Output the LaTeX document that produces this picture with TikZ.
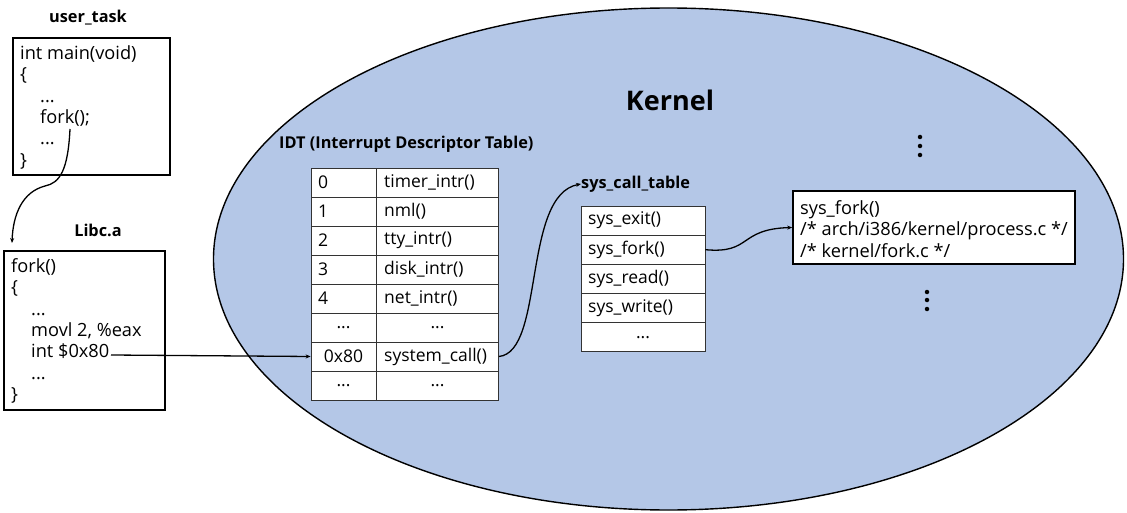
\documentclass[tikz,border=0pt]{standalone}
\usepackage{fontspec}
\setmainfont{Open Sans}
\usetikzlibrary{shapes.geometric,arrows.meta}
\definecolor{kblue}{RGB}{180,199,231}
\tikzset{
  codebox/.style={draw=black,line width=1.6pt,fill=white,inner sep=0pt},
  codetext/.style={anchor=north west,align=left,inner sep=0pt,font=\fontsize{18.2}{21.3}\selectfont},
  title/.style={font=\fontsize{16.3}{18}\selectfont\bfseries,inner sep=0pt},
  cell/.style={draw=black!80,line width=0.8pt,fill=white,inner sep=0pt,minimum height=29pt,font=\fontsize{17.5}{19}\selectfont},
  ctext/.style={font=\fontsize{17.5}{19}\selectfont,inner sep=0pt,anchor=west},
  conn/.style={line width=1.3pt,-{Stealth[length=5pt,width=4pt]}},
  vdot/.style={circle,fill=black,inner sep=0pt,minimum size=4.5pt}
}
\begin{document}
\begin{tikzpicture}[x=1pt,y=-1pt]
\useasboundingbox (0,0) rectangle (1127,513);
% kernel ellipse
\node[ellipse,draw=black,line width=1.4pt,fill=kblue,minimum width=910pt,minimum height=502pt,inner sep=0pt] (kernel) at (668.5,259) {};
\node[font=\fontsize{27}{30}\selectfont\bfseries,inner sep=0pt] (kt) at (670,100) {Kernel};

% user_task
\node[title] (utl) at (88,18) {user\_task};
\node[codebox,minimum width=157pt,minimum height=137pt] (ut) at (91.5,106.5) {};
\node[codetext] (utt) at (20,45.5) {int main(void)\\\{\\\hspace{20pt}...\\\hspace{20pt}fork();\\\hspace{20pt}...\\\}};
\coordinate (forkc) at (70,129);

% Libc.a
\node[title] (lbl) at (98,230) {Libc.a};
\node[codebox,minimum width=161pt,minimum height=159pt] (lb) at (84.5,330.5) {};
\node[codetext] (lbt) at (11,258.5) {fork()\\\{\\\hspace{20pt}...\\\hspace{20pt}movl 2, \%eax\\\hspace{20pt}int \$0x80\\\hspace{20pt}...\\\}};
\coordinate (intc) at (111,355);
\coordinate (lbin) at (12,243);

% IDT
\node[title,anchor=west] (idtl) at (279,144) {IDT (Interrupt Descriptor Table)};
\foreach \i/\a/\b in {0/0/timer\_intr(),1/1/nml(),2/2/tty\_intr(),3/3/disk\_intr(),4/4/net\_intr()}{
  \node[cell,minimum width=65pt] (idtl\i) at (343.5,{182.5+29*\i}) {};
  \node[cell,minimum width=122pt] (idtr\i) at (437.5,{182.5+29*\i}) {};
  \node[ctext] at (318,{182.5+29*\i}) {\a};
  \node[ctext] at (384,{182.5+29*\i}) {\b};
}
\node[cell,minimum width=65pt] (idtl5) at (343.5,327.5) {...};
\node[cell,minimum width=122pt] (idtr5) at (437.5,327.5) {...};
\node[cell,minimum width=65pt] (idtl6) at (343.5,356.5) {0x80};
\node[cell,minimum width=122pt] (idtr6) at (437.5,356.5) {};
\node[ctext] (scall) at (384,356.5) {system\_call()};
\node[cell,minimum width=65pt] (idtl7) at (343.5,385.5) {...};
\node[cell,minimum width=122pt] (idtr7) at (437.5,385.5) {...};

% sys_call_table
\node[title,anchor=west] (sctl) at (581,184) {sys\_call\_table};
\foreach \i/\a in {0/sys\_exit(),1/sys\_fork(),2/sys\_read(),3/sys\_write()}{
  \node[cell,minimum width=124pt] (sct\i) at (643,{220.5+29.2*\i}) {};
  \node[ctext] at (588,{220.5+29.2*\i}) {\a};
}
\node[cell,minimum width=124pt] (sct4) at (643,337.3) {...};

% sys_fork box
\node[codebox,minimum width=282pt,minimum height=73pt] (sf) at (934,227.5) {};
\node[codetext] (sft) at (800,200.5) {sys\_fork()\\/* arch/i386/kernel/process.c */\\/* kernel/fork.c */};

% dots
\node[vdot] (d1) at (920,137) {};
\node[vdot] (d2) at (920,146) {};
\node[vdot] (d3) at (920,155) {};
\node[vdot] (d4) at (927,292) {};
\node[vdot] (d5) at (927,300) {};
\node[vdot] (d6) at (927,309) {};

% connectors
\draw[conn] (forkc) .. controls (68,170) and (60,183) .. (45,186) .. controls (22,192) and (13,215) .. (lbin);
\draw[conn] (intc) -- (idtl6.west);
\draw[conn] (idtr6.east) .. controls (545,352) and (522,195) .. (sctl.west);
\draw[conn] (sct1.east) .. controls (752,254) and (738,229) .. (sf.west);
\end{tikzpicture}
\end{document}
